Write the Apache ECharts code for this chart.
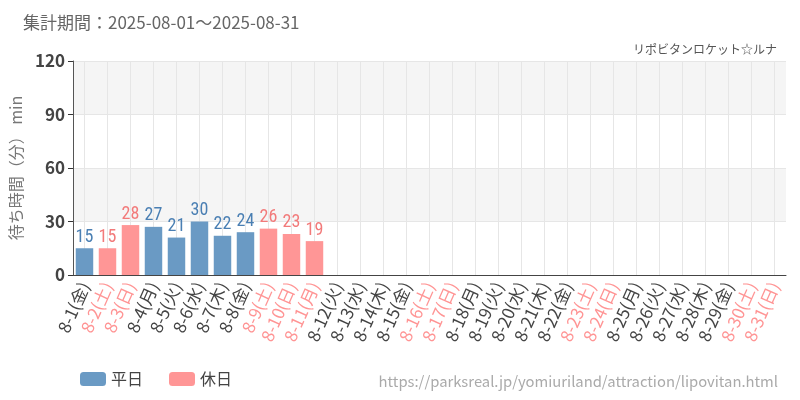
<!DOCTYPE html>
<html>
<head>
<meta charset="utf-8">
<script src="https://cdn.jsdelivr.net/npm/echarts@6/dist/echarts.min.js"></script>
<style>
  html, body { margin: 0; padding: 0; background: #fff; }
  #chart { width: 800px; height: 400px; }
</style>
</head>
<body>
<div id="chart"></div>
<script>
const days = [
  "8-1(金)", "8-2(土)", "8-3(日)", "8-4(月)", "8-5(火)", "8-6(水)", "8-7(木)", "8-8(金)",
  "8-9(土)", "8-10(日)", "8-11(月)", "8-12(火)", "8-13(水)", "8-14(木)", "8-15(金)", "8-16(土)",
  "8-17(日)", "8-18(月)", "8-19(火)", "8-20(水)", "8-21(木)", "8-22(金)", "8-23(土)", "8-24(日)",
  "8-25(月)", "8-26(火)", "8-27(水)", "8-28(木)", "8-29(金)", "8-30(土)", "8-31(日)",
];
const holidays = ["8-2", "8-3", "8-9", "8-10", "8-11", "8-16", "8-17", "8-23", "8-24", "8-30", "8-31"];
const waitMinutes = [15, 15, 28, 27, 21, 30, 22, 24, 26, 23, 19];
const yTicks = [0, 30, 60, 90, 120];

const isHoliday = (label) => holidays.includes(label.split("(")[0]);
const weekdayData = days.map((d, i) => (i < waitMinutes.length && !isHoliday(d) ? waitMinutes[i] : null));
const holidayData = days.map((d, i) => (i < waitMinutes.length && isHoliday(d) ? waitMinutes[i] : null));

const blue = "#6a9ac4";
const pink = "#ff9696";
const labelFont = "'Liberation Sans Narrow', 'Roboto Condensed', 'DejaVu Sans Condensed', sans-serif";

const chart = echarts.init(document.getElementById("chart"), null, { renderer: "canvas" });
chart.setOption({
  animation: false,
  textStyle: { fontFamily: "'Noto Sans CJK JP', 'Noto Sans', sans-serif" },
  title: [
    {
      text: "集計期間：2025-08-01～2025-08-31",
      left: 18,
      top: 9,
      textStyle: { fontSize: 17, fontWeight: "normal", color: "#666" },
    },
    {
      text: "リポビタンロケット☆ルナ",
      right: 18,
      top: 38,
      textStyle: { fontSize: 12, fontWeight: "normal", color: "#555" },
    },
    {
      text: "https://parksreal.jp/yomiuriland/attraction/lipovitan.html",
      right: 17,
      bottom: 6,
      textStyle: { fontSize: 14.8, fontWeight: "normal", color: "#aaa" },
    },
  ],
  legend: {
    left: 75,
    bottom: 8,
    itemWidth: 26,
    itemHeight: 14,
    itemGap: 26,
    textStyle: { fontSize: 16, color: "#444" },
    data: ["平日", "休日"],
  },
  grid: { left: 71, right: 14, top: 61, bottom: 125 },
  xAxis: {
    type: "category",
    data: days,
    axisLine: { lineStyle: { color: "#444" } },
    axisTick: { alignWithLabel: true, lineStyle: { color: "#333" } },
    splitLine: { show: true, alignWithLabel: true, lineStyle: { color: "#e6e6e6" } },
    axisLabel: {
      interval: 0,
      rotate: 66,
      fontSize: 17,
      margin: 8,
      color: (value) => (isHoliday(value) ? "#ff9494" : "#444"),
    },
  },
  yAxis: {
    type: "value",
    min: yTicks[0],
    max: yTicks[yTicks.length - 1],
    interval: 30,
    name: "待ち時間（分） min",
    nameLocation: "middle",
    nameGap: 40,
    nameTextStyle: { fontSize: 16, color: "#777" },
    axisLine: { show: true, lineStyle: { color: "#555" } },
    axisTick: { show: true, lineStyle: { color: "#333" } },
    axisLabel: { fontSize: 17, fontWeight: "bold", color: "#444" },
    splitLine: { lineStyle: { color: "#e6e6e6" } },
    splitArea: { show: true, areaStyle: { color: ["#ffffff", "#f5f5f5"] } },
  },
  series: [
    {
      name: "平日",
      type: "bar",
      stack: "wait",
      barWidth: "76%",
      data: weekdayData,
      itemStyle: { color: blue },
      label: { show: true, position: "top", distance: 2, fontSize: 18, fontFamily: labelFont, color: "#4a7fb3" },
    },
    {
      name: "休日",
      type: "bar",
      stack: "wait",
      barWidth: "76%",
      data: holidayData,
      itemStyle: { color: pink },
      label: { show: true, position: "top", distance: 2, fontSize: 18, fontFamily: labelFont, color: "#f27a7a" },
    },
  ],
});
</script>
</body>
</html>
